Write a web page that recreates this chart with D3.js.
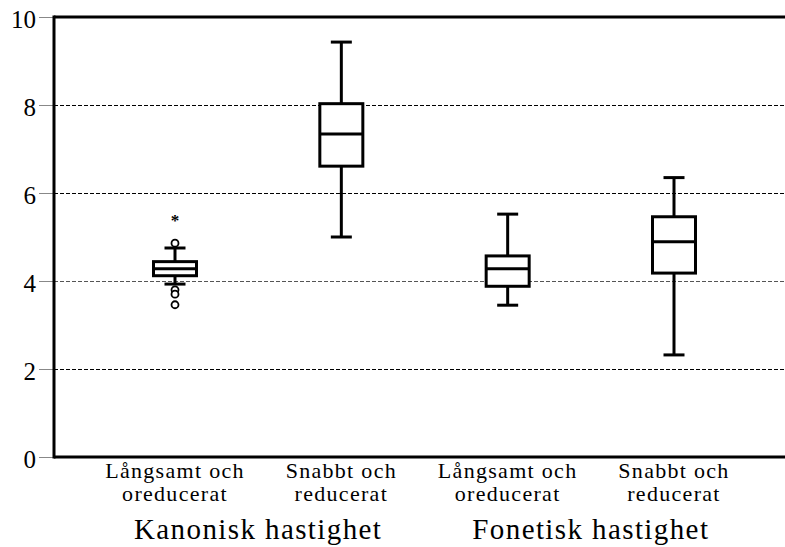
<!DOCTYPE html>
<html>
<head>
<meta charset="utf-8">
<script src="https://cdn.jsdelivr.net/npm/d3@7/dist/d3.min.js"></script>
<style>
  body { margin: 0; background: #fff; }
  text { font-family: "Liberation Serif", "DejaVu Serif", serif; fill: #000; }
</style>
</head>
<body>
<div id="chart"></div>
<script>
// box statistics
var categories = ["k_lang", "k_snabb", "f_lang", "f_snabb"];
var catLines = [["Långsamt och", "oreducerat"], ["Snabbt och", "reducerat"],
                ["Långsamt och", "oreducerat"], ["Snabbt och", "reducerat"]];
var groups = ["Kanonisk hastighet", "Fonetisk hastighet"];
var whiskLow  = [3.93, 5.00, 3.45, 2.32];
var q1        = [4.12, 6.61, 3.88, 4.18];
var median    = [4.28, 7.34, 4.28, 4.89];
var q3        = [4.44, 8.03, 4.57, 5.46];
var whiskHigh = [4.75, 9.43, 5.52, 6.35];
// outliers: [category index, value, type]
var outliers = [[0, 4.86, "o"], [0, 3.80, "o"], [0, 3.70, "o"], [0, 3.46, "o"], [0, 5.50, "*"]];
var yTicks = [0, 2, 4, 6, 8, 10];

(function () {
var width = 785, height = 547;
var mLeft = 54, mTop = 17, mBottom = 457, mRight = 795;

var svg = d3.select("#chart").append("svg")
    .attr("width", width)
    .attr("height", height);

var y = d3.scaleLinear().domain([0, 10]).range([mBottom, mTop]);
var x = d3.scalePoint().domain(categories).range([175, 674]);

// grid lines
svg.append("g").selectAll("line")
    .data(yTicks.filter(function (d) { return d > 0 && d < 10; }))
    .enter().append("line")
    .attr("x1", mLeft).attr("x2", mRight)
    .attr("y1", function (d) { return y(d) + 0.5; })
    .attr("y2", function (d) { return y(d) + 0.5; })
    .attr("stroke", function (d) { return d === 4 ? "#555" : "#000"; })
    .attr("stroke-width", 1)
    .attr("stroke-dasharray", "4,2");

// y axis ticks + labels
var yAxis = d3.axisLeft(y).tickValues(yTicks).tickSize(15).tickPadding(3)
    .tickFormat(d3.format("d"));
var ya = svg.append("g")
    .attr("transform", "translate(" + mLeft + ",0)")
    .call(yAxis);
ya.select(".domain").remove();
ya.selectAll(".tick line").attr("stroke", "#888").attr("stroke-width", 1);
ya.selectAll(".tick text")
    .attr("font-size", 25)
    .attr("font-family", "Liberation Serif")
    .attr("dy", "0.42em");

// frame: left, top, bottom
svg.append("line").attr("x1", mLeft).attr("x2", mLeft)
    .attr("y1", mTop - 1.5).attr("y2", mBottom + 1.5)
    .attr("stroke", "#000").attr("stroke-width", 3);
svg.append("line").attr("x1", mLeft).attr("x2", mRight)
    .attr("y1", mTop).attr("y2", mTop)
    .attr("stroke", "#000").attr("stroke-width", 3);
svg.append("line").attr("x1", mLeft).attr("x2", mRight)
    .attr("y1", mBottom).attr("y2", mBottom)
    .attr("stroke", "#000").attr("stroke-width", 3);

// boxes
var boxW = 43, capW = 21;
var box = svg.append("g").selectAll("g")
    .data(categories)
    .enter().append("g");

box.append("line")
    .attr("x1", function (d) { return x(d); })
    .attr("x2", function (d) { return x(d); })
    .attr("y1", function (d, i) { return y(whiskLow[i]); })
    .attr("y2", function (d, i) { return y(whiskHigh[i]); })
    .attr("stroke", "#000").attr("stroke-width", 3);

box.append("line")
    .attr("x1", function (d) { return x(d) - capW / 2; })
    .attr("x2", function (d) { return x(d) + capW / 2; })
    .attr("y1", function (d, i) { return y(whiskLow[i]); })
    .attr("y2", function (d, i) { return y(whiskLow[i]); })
    .attr("stroke", "#000").attr("stroke-width", 3);

box.append("line")
    .attr("x1", function (d) { return x(d) - capW / 2; })
    .attr("x2", function (d) { return x(d) + capW / 2; })
    .attr("y1", function (d, i) { return y(whiskHigh[i]); })
    .attr("y2", function (d, i) { return y(whiskHigh[i]); })
    .attr("stroke", "#000").attr("stroke-width", 3);

box.append("rect")
    .attr("x", function (d) { return x(d) - boxW / 2; })
    .attr("width", boxW)
    .attr("y", function (d, i) { return y(q3[i]); })
    .attr("height", function (d, i) { return y(q1[i]) - y(q3[i]); })
    .attr("fill", "#fff")
    .attr("stroke", "#000").attr("stroke-width", 3);

box.append("line")
    .attr("x1", function (d) { return x(d) - boxW / 2; })
    .attr("x2", function (d) { return x(d) + boxW / 2; })
    .attr("y1", function (d, i) { return y(median[i]); })
    .attr("y2", function (d, i) { return y(median[i]); })
    .attr("stroke", "#000").attr("stroke-width", 3);

// outliers
svg.append("g").selectAll("circle")
    .data(outliers.filter(function (d) { return d[2] === "o"; }))
    .enter().append("circle")
    .attr("cx", function (d) { return x(categories[d[0]]); })
    .attr("cy", function (d) { return y(d[1]); })
    .attr("r", 3.5)
    .attr("fill", "#fff")
    .attr("stroke", "#000").attr("stroke-width", 1.8);

svg.append("g").selectAll("text")
    .data(outliers.filter(function (d) { return d[2] === "*"; }))
    .enter().append("text")
    .attr("x", function (d) { return x(categories[d[0]]); })
    .attr("y", function (d) { return y(d[1]); })
    .attr("dy", "0.62em")
    .attr("text-anchor", "middle")
    .attr("font-family", "DejaVu Sans")
    .attr("font-weight", "bold")
    .attr("font-size", 17)
    .text("*");

// category labels
var cl = svg.append("g").selectAll("text")
    .data(categories)
    .enter().append("text")
    .attr("text-anchor", "middle")
    .attr("font-size", 22)
    .attr("letter-spacing", 1.3)
    .attr("x", function (d) { return x(d); })
    .attr("y", 478);
cl.append("tspan")
    .attr("x", function (d) { return x(d); })
    .text(function (d, i) { return catLines[i][0]; });
cl.append("tspan")
    .attr("x", function (d) { return x(d); })
    .attr("dy", 23)
    .text(function (d, i) { return catLines[i][1]; });

// group labels
svg.append("g").selectAll("text")
    .data(groups)
    .enter().append("text")
    .attr("text-anchor", "middle")
    .attr("font-size", 29)
    .attr("letter-spacing", 1.4)
    .attr("x", function (d, i) {
        return (x(categories[i * 2]) + x(categories[i * 2 + 1])) / 2;
    })
    .attr("y", 539)
    .text(function (d) { return d; });
})();
</script>
</body>
</html>
